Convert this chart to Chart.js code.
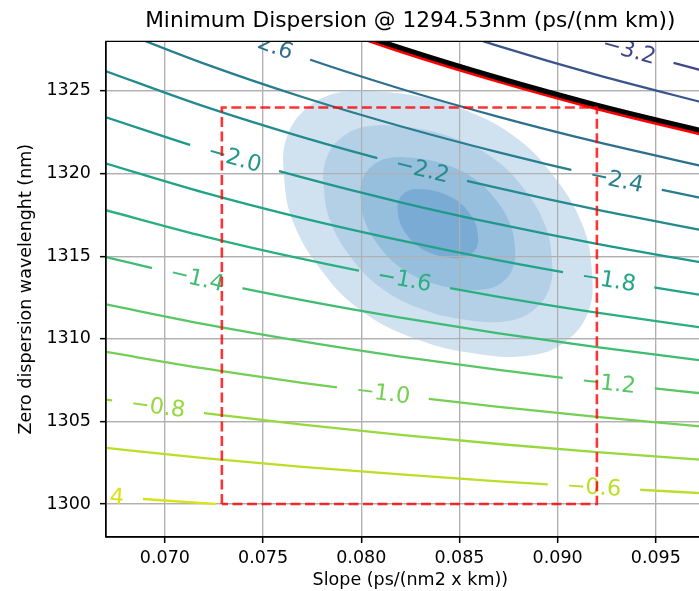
<!DOCTYPE html>
<html><head><meta charset="utf-8">
<script src="https://cdn.jsdelivr.net/npm/chart.js"></script>
<style>
html,body{margin:0;padding:0;background:#fff;}
#wrap{width:699px;height:591px;overflow:hidden;position:relative;background:#fff;}
canvas{display:block;}
</style></head>
<body><div id="wrap"><canvas id="c" width="730" height="591"></canvas></div>
<script>
// ---------------- data ----------------
const xTicks = [0.070, 0.075, 0.080, 0.085, 0.090, 0.095];
const yTicks = [1300, 1305, 1310, 1315, 1320, 1325];

const slopeGrid = [0.067, 0.072, 0.077, 0.082, 0.087, 0.092, 0.098];
const slopeM04 = [0.067, 0.070, 0.0726];
const wlM04 = [1300.46, 1300.21, 1300.00];
const wlM06 = [1303.39, 1302.78, 1302.25, 1301.79, 1301.37, 1301.00, 1300.61];
const wlM08 = [1306.31, 1305.50, 1304.80, 1304.18, 1303.63, 1303.14, 1302.62];
const wlM10 = [1309.20, 1308.20, 1307.33, 1306.56, 1305.87, 1305.27, 1304.62];
const wlM12 = [1312.08, 1310.88, 1309.84, 1308.92, 1308.11, 1307.38, 1306.61];
const wlM14 = [1314.94, 1313.55, 1312.34, 1311.28, 1310.33, 1309.49, 1308.59];
const wlM16 = [1317.78, 1316.20, 1314.83, 1313.62, 1312.54, 1311.58, 1310.56];
const wlM18 = [1320.60, 1318.84, 1317.30, 1315.95, 1314.74, 1313.67, 1312.52];
const wlM20 = [1323.40, 1321.46, 1319.76, 1318.26, 1316.93, 1315.74, 1314.47];
const wlM22 = [1326.19, 1324.06, 1322.20, 1320.56, 1319.11, 1317.81, 1316.42];
const wlM24 = [1328.95, 1326.65, 1324.63, 1322.86, 1321.28, 1319.86, 1318.35];
const wlM26 = [null, 1329.25, 1327.05, 1325.13, 1323.43, 1321.91, 1320.28];
const wlM30 = [null, null, null, 1329.65, 1327.71, 1325.97, 1324.11];
const wlM32 = [null, null, null, null, 1330.10, 1328.00, 1326.02];

const labelLevel = [-0.4, -0.6, -0.8, -1.0, -1.2, -1.4, -1.6, -1.8, -2.0, -2.2, -2.4, -2.6, -3.2];
const labelSlope = [0.06653, 0.09185, 0.06965, 0.0811, 0.0926, 0.07164, 0.0822, 0.0926, 0.07355, 0.0831, 0.0930, 0.07518, 0.09364];
const labelWl = [1300.50, 1301.01, 1305.88, 1306.70, 1307.30, 1313.65, 1313.58, 1313.55, 1320.94, 1320.24, 1319.61, 1327.85, 1327.47];

const limitSlope = [0.077, 0.082, 0.087, 0.092, 0.098];
const limitWlRed = [1329.45, 1327.40, 1325.58, 1323.94, 1322.20];
const limitWlBlack = [1329.65, 1327.60, 1325.78, 1324.14, 1322.40];

const boxSlope = [0.0729, 0.0729, 0.0920, 0.0920, 0.0729];
const boxWl = [1300, 1324, 1324, 1300, 1300];

const ell1Slope = [0.07922,0.08202,0.08507,0.08787,0.08990,0.09128,0.09174,0.09158,0.09041,0.08858,0.08578,0.08273,0.07993,0.07790,0.07652,0.07607,0.07622,0.07739];
const ell1Wl = [1324.96,1324.84,1323.93,1322.18,1319.69,1316.85,1314.13,1311.70,1309.83,1308.98,1309.10,1310.01,1311.76,1314.25,1317.09,1319.82,1322.24,1324.11];
const ell2Slope = [0.08044,0.08251,0.08477,0.08684,0.08834,0.08936,0.08970,0.08959,0.08872,0.08736,0.08529,0.08303,0.08096,0.07946,0.07844,0.07810,0.07821,0.07908];
const ell2Wl = [1322.88,1322.79,1322.12,1320.82,1318.99,1316.88,1314.87,1313.07,1311.68,1311.06,1311.15,1311.82,1313.12,1314.95,1317.06,1319.08,1320.87,1322.26];
const ell3Slope = [0.08156,0.08296,0.08449,0.08588,0.08690,0.08759,0.08782,0.08774,0.08716,0.08624,0.08484,0.08332,0.08192,0.08090,0.08021,0.07998,0.08006,0.08064];
const ell3Wl = [1320.97,1320.91,1320.45,1319.57,1318.33,1316.91,1315.55,1314.34,1313.40,1312.98,1313.04,1313.49,1314.37,1315.61,1317.03,1318.39,1319.60,1320.54];
const ell4Slope = [0.08268,0.08341,0.08420,0.08493,0.08546,0.08582,0.08594,0.08590,0.08559,0.08512,0.08439,0.08360,0.08287,0.08234,0.08198,0.08186,0.08190,0.08221];
const ell4Wl = [1319.05,1319.02,1318.78,1318.32,1317.68,1316.94,1316.23,1315.60,1315.11,1314.89,1314.92,1315.16,1315.62,1316.26,1317.00,1317.71,1318.34,1318.83];

// ---------------- styles ----------------
const levelColors = {
  '-0.4':'#dae21a','-0.6':'#bbde28','-0.8':'#96d83e','-1.0':'#74cf54','-1.2':'#59c666',
  '-1.4':'#3fbc74','-1.6':'#2ab07f','-1.8':'#20a386','-2.0':'#1f978a','-2.2':'#238a8d',
  '-2.4':'#287d8e','-2.6':'#2d708e','-3.0':'#39558c','-3.2':'#404788'
};
const ellColors = ['#d0e1f0', '#b4d0e7', '#96bedd', '#7aabd5'];
const FONT = "'DejaVu Sans', sans-serif";
const LABEL_FONT = "22.5px 'DejaVu Sans', sans-serif";
const LABEL_PAD = 19;

// ---------------- build ----------------
const contourSeries = [
  {lv:-0.4, xs:slopeM04, ys:wlM04},
  {lv:-0.6, xs:slopeGrid, ys:wlM06},
  {lv:-0.8, xs:slopeGrid, ys:wlM08},
  {lv:-1.0, xs:slopeGrid, ys:wlM10},
  {lv:-1.2, xs:slopeGrid, ys:wlM12},
  {lv:-1.4, xs:slopeGrid, ys:wlM14},
  {lv:-1.6, xs:slopeGrid, ys:wlM16},
  {lv:-1.8, xs:slopeGrid, ys:wlM18},
  {lv:-2.0, xs:slopeGrid, ys:wlM20},
  {lv:-2.2, xs:slopeGrid, ys:wlM22},
  {lv:-2.4, xs:slopeGrid, ys:wlM24},
  {lv:-2.6, xs:slopeGrid, ys:wlM26},
  {lv:-3.0, xs:slopeGrid, ys:wlM30},
  {lv:-3.2, xs:slopeGrid, ys:wlM32}
];
const pairs = (xs, ys) => xs.map((x, i) => ({x: x, y: ys[i]})).filter(p => p.y !== null);
const fmt = v => (v < 0 ? '\u2212' : '') + Math.abs(v).toFixed(1);

const datasets = [];
const kinds = [];
const ells = [[ell1Slope, ell1Wl], [ell2Slope, ell2Wl], [ell3Slope, ell3Wl], [ell4Slope, ell4Wl]];
ells.forEach((e, k) => {
  const pts = pairs(e[0], e[1]);
  datasets.push({data: pts.concat(pts.slice(0, 2)), showLine: true, pointRadius: 0, borderWidth: 0,
    borderColor: 'rgba(0,0,0,0)', backgroundColor: ellColors[k], fill: 'shape', tension: 0.4,
    order: 20 - k, clip: 0});
  kinds.push(k === 3 ? 'ellLast' : 'ell');
});
contourSeries.forEach(s => {
  datasets.push({data: pairs(s.xs, s.ys), showLine: true, pointRadius: 0, borderWidth: 2.3,
    borderColor: levelColors[s.lv.toFixed(1)], fill: false, cubicInterpolationMode: 'monotone',
    order: 10, clip: 0});
  kinds.push({lv: s.lv});
});
datasets.push({data: pairs(limitSlope, limitWlRed), showLine: true, pointRadius: 0, borderWidth: 3.6,
  borderColor: '#ff0000', fill: false, cubicInterpolationMode: 'monotone', order: 3, clip: 0});
kinds.push('red');
datasets.push({data: pairs(limitSlope, limitWlBlack), showLine: true, pointRadius: 0, borderWidth: 5,
  borderColor: '#000000', fill: false, cubicInterpolationMode: 'monotone', order: 2, clip: 0});
kinds.push('black');
datasets.push({data: pairs(boxSlope, boxWl), showLine: true, pointRadius: 0, borderWidth: 2.6,
  borderColor: 'rgba(255,0,0,0.8)', borderDash: [10, 4.5], fill: false, tension: 0, order: 1, clip: 0});
kinds.push('box');

function labelGeometry(chart, li) {
  const xs = chart.scales.x, ys = chart.scales.y;
  const s = contourSeries.find(c => Math.abs(c.lv - labelLevel[li]) < 1e-9);
  const pts = pairs(s.xs, s.ys);
  let i = 0;
  while (i < pts.length - 2 && pts[i + 1].x < labelSlope[li]) i++;
  const ang = Math.atan2(ys.getPixelForValue(pts[i + 1].y) - ys.getPixelForValue(pts[i].y),
                         xs.getPixelForValue(pts[i + 1].x) - xs.getPixelForValue(pts[i].x));
  return {px: xs.getPixelForValue(labelSlope[li]), py: ys.getPixelForValue(labelWl[li]), ang: ang};
}

const contourPlugin = {
  id: 'contourExtras',
  beforeDatasetDraw(chart, args) {
    const kind = kinds[args.index];
    const ctx = chart.ctx;
    if (kind && kind.lv !== undefined) {
      ctx.save();
      ctx.beginPath();
      ctx.rect(-10, -10, chart.width + 20, chart.height + 20);
      ctx.font = LABEL_FONT;
      labelLevel.forEach((lv, li) => {
        if (Math.abs(lv - kind.lv) > 1e-9) return;
        const g = labelGeometry(chart, li);
        const w = ctx.measureText(fmt(lv)).width / 2 + LABEL_PAD, h = 11;
        const c = Math.cos(g.ang), sn = Math.sin(g.ang);
        const corners = [[-w, -h], [w, -h], [w, h], [-w, h]].map(p => [g.px + p[0] * c - p[1] * sn, g.py + p[0] * sn + p[1] * c]);
        ctx.moveTo(corners[0][0], corners[0][1]);
        for (let k = 1; k < 4; k++) ctx.lineTo(corners[k][0], corners[k][1]);
        ctx.closePath();
      });
      ctx.clip('evenodd');
    }
    if (kind === 'red') {
      const a = chart.chartArea;
      ctx.save();
      ctx.beginPath();
      ctx.rect(a.left, a.top, a.right - a.left, a.bottom - a.top);
      ctx.clip();
      ctx.font = LABEL_FONT;
      ctx.textAlign = 'center';
      ctx.textBaseline = 'middle';
      labelLevel.forEach((lv, li) => {
        const g = labelGeometry(chart, li);
        ctx.save();
        ctx.translate(g.px, g.py);
        ctx.rotate(g.ang);
        ctx.fillStyle = levelColors[lv.toFixed(1)];
        ctx.fillText(fmt(lv), 0, 1);
        ctx.restore();
      });
      ctx.restore();
    }
  },
  afterDatasetDraw(chart, args) {
    const kind = kinds[args.index];
    if (kind && kind.lv !== undefined) chart.ctx.restore();
    if (kind === 'ellLast') {
      chart.scales.x.drawGrid(chart.chartArea);
      chart.scales.y.drawGrid(chart.chartArea);
    }
  },
  afterDraw(chart) {
    const a = chart.chartArea, ctx = chart.ctx;
    ctx.save();
    ctx.strokeStyle = '#000';
    ctx.lineWidth = 1.3;
    ctx.beginPath();
    ctx.moveTo(a.left, a.bottom); ctx.lineTo(a.left, a.top); ctx.lineTo(a.right, a.top); ctx.lineTo(a.right, a.bottom); ctx.closePath();
    ctx.stroke();
    ctx.restore();
  }
};

Chart.defaults.font.family = FONT;
Chart.defaults.color = '#000';

new Chart(document.getElementById('c'), {
  type: 'scatter',
  data: {datasets: datasets},
  plugins: [contourPlugin],
  options: {
    responsive: false,
    animation: false,
    events: [],
    layout: {padding: {left: 0, right: 15.3, top: 0, bottom: 0}},
    plugins: {
      legend: {display: false},
      tooltip: {enabled: false},
      title: {display: true, text: 'Minimum Dispersion @ 1294.53nm (ps/(nm km))', fullSize: false,
        color: '#000', font: {size: 21.7, weight: 'normal', family: FONT}, padding: {top: 8, bottom: 7.3}}
    },
    scales: {
      x: {
        type: 'linear', min: 0.067, max: 0.098,
        afterBuildTicks: s => { s.ticks = xTicks.map(v => ({value: v})); },
        afterFit: s => { s.height = 54; },
        ticks: {callback: v => Number(v).toFixed(3), font: {size: 17.5}, color: '#000', padding: 5, maxRotation: 0, autoSkip: false},
        grid: {color: '#b0b0b0', lineWidth: 1.2, drawTicks: true, tickLength: 6, tickColor: '#000', tickWidth: 1.3},
        border: {display: true, color: '#000', width: 1.3},
        title: {display: true, text: 'Slope (ps/(nm2 x km))', font: {size: 17.5}, color: '#000', padding: {top: 0, bottom: 0}}
      },
      y: {
        type: 'linear', min: 1298, max: 1328,
        afterBuildTicks: s => { s.ticks = yTicks.map(v => ({value: v})); },
        afterFit: s => { s.width = 106; },
        ticks: {callback: v => String(v), font: {size: 17.5}, color: '#000', padding: 9, autoSkip: false},
        grid: {color: '#b0b0b0', lineWidth: 1.2, drawTicks: true, tickLength: 6, tickColor: '#000', tickWidth: 1.3},
        border: {display: true, color: '#000', width: 1.3},
        title: {display: true, text: 'Zero dispersion wavelenght (nm)', font: {size: 17.5}, color: '#000', padding: {top: 16, bottom: 0}}
      }
    }
  }
});
</script>
</body></html>
